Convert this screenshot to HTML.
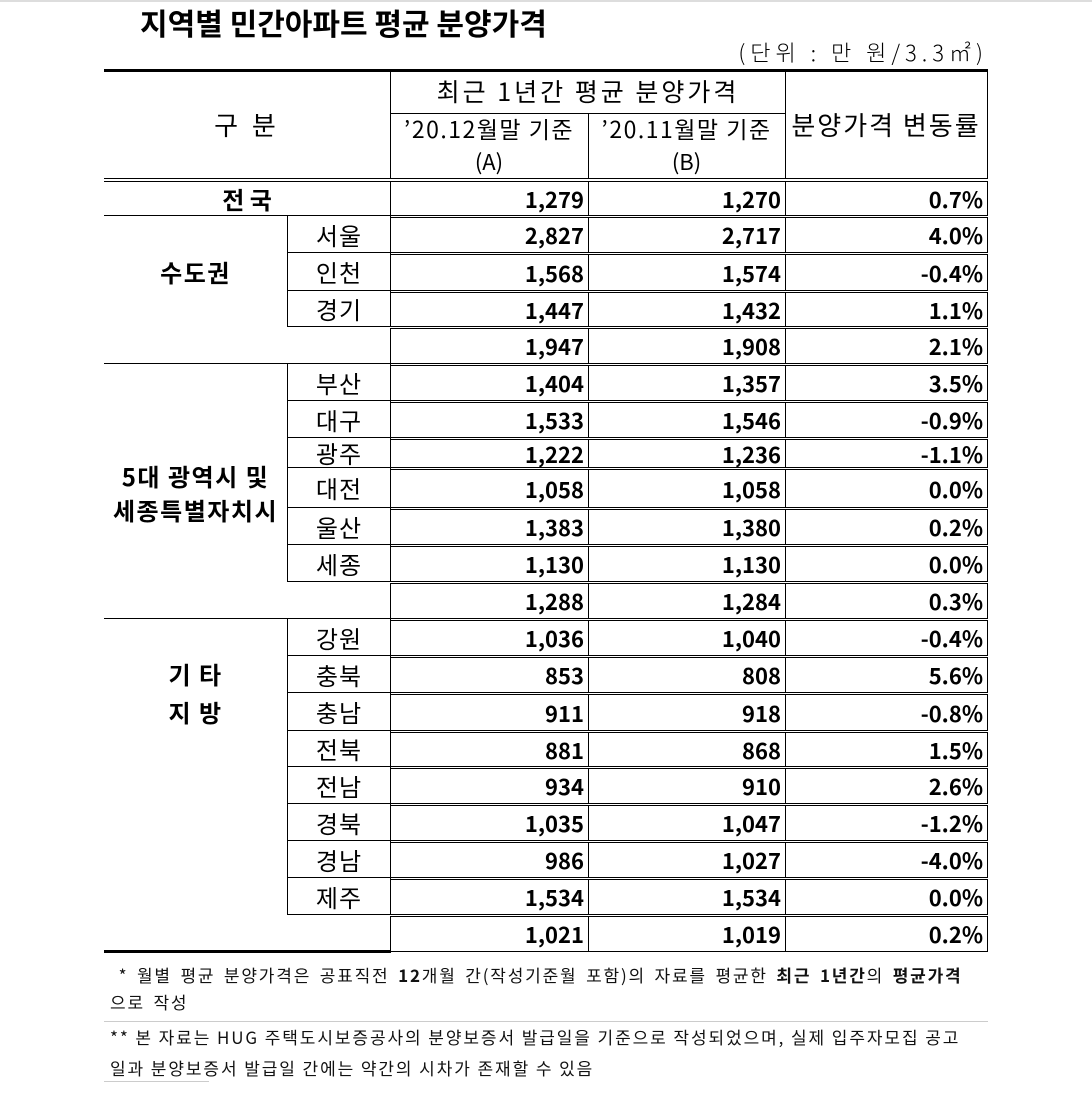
<!DOCTYPE html>
<html><head><meta charset="utf-8"><style>
body{margin:0;width:1092px;height:1116px;background:#fff;position:relative;overflow:hidden;font-family:"Noto Sans CJK KR","NanumGothic",sans-serif;color:#000}
.a{position:absolute;box-sizing:border-box}
.c{display:flex;align-items:center;justify-content:center;white-space:nowrap}
.n{position:absolute;box-sizing:border-box;border:1px solid #000;display:flex;align-items:center;justify-content:flex-end;padding-right:4px;font-weight:bold;font-size:22px;white-space:nowrap}
.s{position:absolute;box-sizing:border-box;border:1px solid #000;display:flex;align-items:center;justify-content:center;font-size:24px;letter-spacing:1px;left:287px;width:104px}
.h{position:absolute;background:#000}
.g{position:absolute;font-weight:bold;font-size:24px;letter-spacing:1.5px;text-align:center;left:104px;width:183px;line-height:34px;white-space:nowrap}
</style></head><body>
<div class="a" style="left:0;top:0;width:1092px;height:2px;background:#ddd"></div>
<div class="a" style="left:140px;top:0px;font-size:30px;font-weight:bold;white-space:nowrap">지역별 민간아파트 평균 분양가격</div>
<div class="a" style="right:104px;top:36px;font-size:22px;letter-spacing:5px;white-space:nowrap;font-weight:300">(단위 : 만 원/3.3㎡)</div>

<div class="h" style="left:104px;top:69px;width:884px;height:3px"></div>
<!-- header -->
<div class="h" style="left:390px;top:70px;width:1px;height:108px"></div>
<div class="h" style="left:785px;top:70px;width:1px;height:108px"></div>
<div class="h" style="left:987px;top:70px;width:1px;height:108px"></div>
<div class="h" style="left:588px;top:113px;width:1px;height:65px"></div>
<div class="h" style="left:390px;top:113px;width:396px;height:1px"></div>
<div class="a c" style="left:390px;top:71px;width:396px;height:40px;font-size:25px;letter-spacing:3px">최근 1년간 평균 분양가격</div>
<div class="a c" style="left:104px;top:104px;width:286px;height:40px;font-size:26px;letter-spacing:4px">구 분</div>
<div class="a c" style="left:785px;top:104px;width:202px;height:40px;font-size:26px;letter-spacing:2px">분양가격 변동률</div>
<div class="a c" style="left:390px;top:113px;width:198px;height:30px;font-size:23px;letter-spacing:1.5px">’20.12월말 기준</div>
<div class="a c" style="left:390px;top:145px;width:198px;height:32px;font-size:22px">(A)</div>
<div class="a c" style="left:588px;top:113px;width:197px;height:30px;font-size:23px;letter-spacing:1.5px">’20.11월말 기준</div>
<div class="a c" style="left:588px;top:145px;width:197px;height:32px;font-size:22px">(B)</div>

<!-- 전국 -->
<div class="h" style="left:104px;top:178px;width:884px;height:1px"></div>
<div class="a c" style="left:104px;top:181px;width:287px;height:35px;border:1px solid #000;border-left:none;font-weight:bold;font-size:24px">전 국</div>
<div class="n" style="left:390px;top:181px;width:199px;height:35px">1,279</div>
<div class="n" style="left:588px;top:181px;width:198px;height:35px">1,270</div>
<div class="n" style="left:785px;top:181px;width:203px;height:35px">0.7%</div>

<!-- group lines -->
<div class="h" style="left:104px;top:215px;width:287px;height:1px"></div>
<div class="h" style="left:104px;top:363px;width:287px;height:1px"></div>
<div class="h" style="left:104px;top:618px;width:287px;height:1px"></div>
<div class="h" style="left:104px;top:950px;width:287px;height:3px"></div>
<div class="g" style="top:255px">수도권</div>
<div class="g" style="top:459px">5대 광역시 및<br>세종특별자치시</div>
<div class="g" style="top:655px;line-height:38px">기 타<br>지 방</div>

<!-- sub names -->
<div class="s" style="top:215px;height:38px">서울</div>
<div class="s" style="top:252px;height:39px">인천</div>
<div class="s" style="top:290px;height:37px">경기</div>
<div class="s" style="top:363px;height:38px">부산</div>
<div class="s" style="top:400px;height:38px">대구</div>
<div class="s" style="top:437px;height:31px">광주</div>
<div class="s" style="top:467px;height:41px">대전</div>
<div class="s" style="top:507px;height:38px">울산</div>
<div class="s" style="top:544px;height:38px">세종</div>
<div class="s" style="top:618px;height:38px">강원</div>
<div class="s" style="top:655px;height:38px">충북</div>
<div class="s" style="top:692px;height:39px">충남</div>
<div class="s" style="top:730px;height:37px">전북</div>
<div class="s" style="top:766px;height:38px">전남</div>
<div class="s" style="top:803px;height:38px">경북</div>
<div class="s" style="top:840px;height:38px">경남</div>
<div class="s" style="top:877px;height:38px">제주</div>

<!-- numeric rows -->
<div class="n" style="left:390px;top:217px;width:199px;height:36px">2,827</div><div class="n" style="left:588px;top:217px;width:198px;height:36px">2,717</div><div class="n" style="left:785px;top:217px;width:203px;height:36px">4.0%</div>
<div class="n" style="left:390px;top:254px;width:199px;height:37px">1,568</div><div class="n" style="left:588px;top:254px;width:198px;height:37px">1,574</div><div class="n" style="left:785px;top:254px;width:203px;height:37px">-0.4%</div>
<div class="n" style="left:390px;top:292px;width:199px;height:35px">1,447</div><div class="n" style="left:588px;top:292px;width:198px;height:35px">1,432</div><div class="n" style="left:785px;top:292px;width:203px;height:35px">1.1%</div>
<div class="n" style="left:390px;top:328px;width:199px;height:36px">1,947</div><div class="n" style="left:588px;top:328px;width:198px;height:36px">1,908</div><div class="n" style="left:785px;top:328px;width:203px;height:36px">2.1%</div>
<div class="n" style="left:390px;top:365px;width:199px;height:36px">1,404</div><div class="n" style="left:588px;top:365px;width:198px;height:36px">1,357</div><div class="n" style="left:785px;top:365px;width:203px;height:36px">3.5%</div>
<div class="n" style="left:390px;top:402px;width:199px;height:36px">1,533</div><div class="n" style="left:588px;top:402px;width:198px;height:36px">1,546</div><div class="n" style="left:785px;top:402px;width:203px;height:36px">-0.9%</div>
<div class="n" style="left:390px;top:439px;width:199px;height:29px">1,222</div><div class="n" style="left:588px;top:439px;width:198px;height:29px">1,236</div><div class="n" style="left:785px;top:439px;width:203px;height:29px">-1.1%</div>
<div class="n" style="left:390px;top:469px;width:199px;height:39px">1,058</div><div class="n" style="left:588px;top:469px;width:198px;height:39px">1,058</div><div class="n" style="left:785px;top:469px;width:203px;height:39px">0.0%</div>
<div class="n" style="left:390px;top:509px;width:199px;height:36px">1,383</div><div class="n" style="left:588px;top:509px;width:198px;height:36px">1,380</div><div class="n" style="left:785px;top:509px;width:203px;height:36px">0.2%</div>
<div class="n" style="left:390px;top:546px;width:199px;height:36px">1,130</div><div class="n" style="left:588px;top:546px;width:198px;height:36px">1,130</div><div class="n" style="left:785px;top:546px;width:203px;height:36px">0.0%</div>
<div class="n" style="left:390px;top:583px;width:199px;height:36px">1,288</div><div class="n" style="left:588px;top:583px;width:198px;height:36px">1,284</div><div class="n" style="left:785px;top:583px;width:203px;height:36px">0.3%</div>
<div class="n" style="left:390px;top:620px;width:199px;height:36px">1,036</div><div class="n" style="left:588px;top:620px;width:198px;height:36px">1,040</div><div class="n" style="left:785px;top:620px;width:203px;height:36px">-0.4%</div>
<div class="n" style="left:390px;top:657px;width:199px;height:36px">853</div><div class="n" style="left:588px;top:657px;width:198px;height:36px">808</div><div class="n" style="left:785px;top:657px;width:203px;height:36px">5.6%</div>
<div class="n" style="left:390px;top:694px;width:199px;height:37px">911</div><div class="n" style="left:588px;top:694px;width:198px;height:37px">918</div><div class="n" style="left:785px;top:694px;width:203px;height:37px">-0.8%</div>
<div class="n" style="left:390px;top:732px;width:199px;height:35px">881</div><div class="n" style="left:588px;top:732px;width:198px;height:35px">868</div><div class="n" style="left:785px;top:732px;width:203px;height:35px">1.5%</div>
<div class="n" style="left:390px;top:768px;width:199px;height:36px">934</div><div class="n" style="left:588px;top:768px;width:198px;height:36px">910</div><div class="n" style="left:785px;top:768px;width:203px;height:36px">2.6%</div>
<div class="n" style="left:390px;top:805px;width:199px;height:36px">1,035</div><div class="n" style="left:588px;top:805px;width:198px;height:36px">1,047</div><div class="n" style="left:785px;top:805px;width:203px;height:36px">-1.2%</div>
<div class="n" style="left:390px;top:842px;width:199px;height:36px">986</div><div class="n" style="left:588px;top:842px;width:198px;height:36px">1,027</div><div class="n" style="left:785px;top:842px;width:203px;height:36px">-4.0%</div>
<div class="n" style="left:390px;top:879px;width:199px;height:36px">1,534</div><div class="n" style="left:588px;top:879px;width:198px;height:36px">1,534</div><div class="n" style="left:785px;top:879px;width:203px;height:36px">0.0%</div>
<div class="n" style="left:390px;top:916px;width:199px;height:36px">1,021</div><div class="n" style="left:588px;top:916px;width:198px;height:36px">1,019</div><div class="n" style="left:785px;top:916px;width:203px;height:36px">0.2%</div>

<!-- footnotes -->
<div class="a" style="left:110px;top:961px;font-size:17px;line-height:27px;width:900px;letter-spacing:1.8px;word-spacing:3px;color:#111;white-space:nowrap">&nbsp;* 월별 평균 분양가격은 공표직전 <b>12</b>개월 간(작성기준월 포함)의 자료를 평균한 <b>최근 1년간</b>의 <b>평균가격</b><br>으로 작성</div>
<div class="a" style="left:104px;top:1021px;width:884px;height:1px;background:#ccc"></div>
<div class="a" style="left:110px;top:1021px;font-size:17px;line-height:31px;width:900px;letter-spacing:1.9px;color:#111;white-space:nowrap">** 본 자료는 HUG 주택도시보증공사의 분양보증서 발급일을 기준으로 작성되었으며, 실제 입주자모집 공고<br>일과 분양보증서 발급일 간에는 약간의 시차가 존재할 수 있음</div>
<div class="a" style="left:104px;top:1081px;width:105px;height:1px;background:#ccc"></div>
</body></html>
